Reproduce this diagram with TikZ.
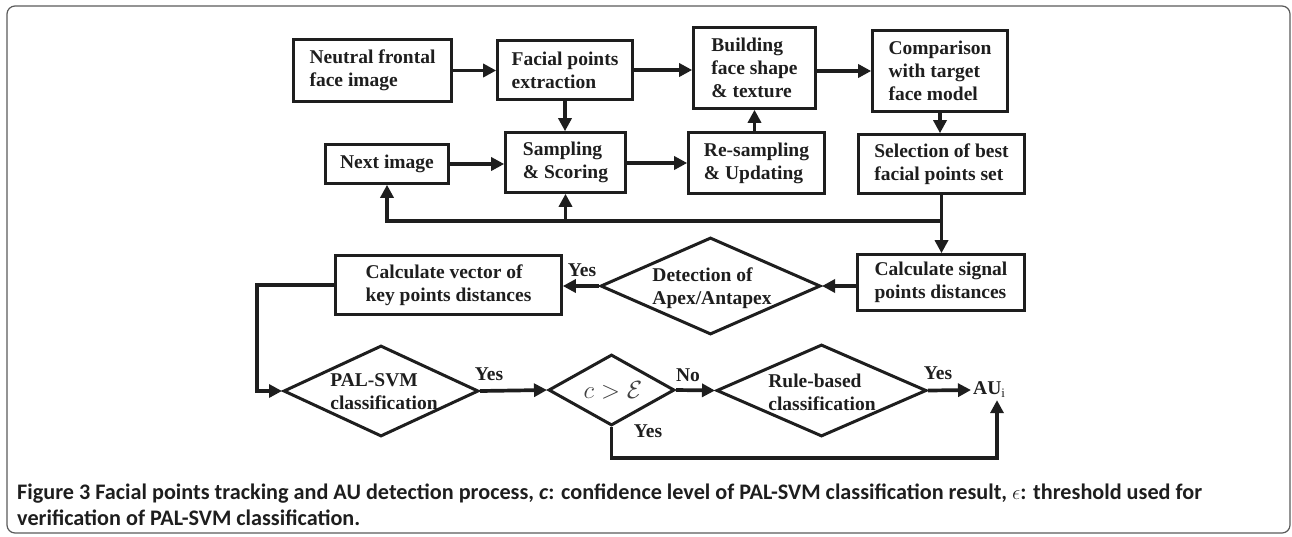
\documentclass[tikz,border=0pt]{standalone}
\usepackage{fontspec}
\setmainfont{Liberation Serif}
\newfontfamily\capfamily{Carlito}
\usetikzlibrary{shapes.geometric,arrows.meta}

\definecolor{ink}{HTML}{1E1E1E}
\definecolor{framegray}{HTML}{5A5A5A}

\newcommand{\boxfont}{\bfseries\fontsize{19.5}{23}\selectfont}
\newcommand{\capfont}{\capfamily\bfseries\fontsize{22.2}{24}\selectfont}

\tikzset{
  box/.style={draw=ink, line width=2.6pt, align=left, font=\boxfont, text=ink, inner sep=0pt},
  dia/.style={draw=ink, diamond, line width=3pt, inner sep=0pt},
  dtext/.style={align=left, font=\boxfont, text=ink, inner sep=0pt},
  arr/.style={draw=ink, line width=3.7pt, -{Triangle[length=13pt,width=13pt]}},
  lbl/.style={font=\boxfont, text=ink, inner sep=0pt},
  captext/.style={font=\capfont, text=ink, anchor=base west, inner sep=0pt}
}

\begin{document}
\begin{tikzpicture}[x=1pt, y=-1pt]
\useasboundingbox (0,0) rectangle (1292,536);

% outer frame of the figure
\draw[framegray, line width=1.2pt, rounded corners=8pt] (7,6) rectangle (1290,533);

% first two rows of process boxes
\node[box, minimum width=158pt, minimum height=62pt] (nfi) at (372.5,70.5) {Neutral frontal\\face image};
\node[box, minimum width=135pt, minimum height=59pt] (fpe) at (565,70) {Facial points\\extraction};
\node[box, minimum width=122pt, minimum height=81pt] (bfs) at (754.5,68) {Building\\face shape\\\& texture};
\node[box, minimum width=135pt, minimum height=81pt] (cmp) at (940,71) {Comparison\\with target\\face model};
\node[box, minimum width=166pt, minimum height=59pt] (sel) at (941.5,164) {Selection of best\\facial points set};
\node[box, minimum width=123pt, minimum height=39pt] (nxt) at (387,164) {Next image};
\node[box, minimum width=120pt, minimum height=60pt] (sps) at (565.5,162.5) {Sampling\\\& Scoring};
\node[box, minimum width=136pt, minimum height=61pt] (rsu) at (756.5,163) {Re-sampling\\\& Updating};

% third row
\node[box, minimum width=167pt, minimum height=56pt] (sig) at (941,282.5) {Calculate signal\\points distances};
\node[box, minimum width=226pt, minimum height=59pt] (vec) at (448.5,285) {Calculate vector of\\key points distances};
\node[dia, minimum width=220pt, minimum height=97pt] (det) at (710.5,286) {};
\node[dtext] (dett) at (712,288) {Detection of\\Apex/Antapex};

% decision row
\node[dia, minimum width=195pt, minimum height=91pt] (pal) at (381,391) {};
\node[dtext] (palt) at (384,392) {PAL-SVM\\classification};
\node[dia, minimum width=126pt, minimum height=71pt] (cge) at (611.5,390) {};
\node[inner sep=0pt, text=ink!85] (cget) at (613,390) {\fontsize{26}{26}\selectfont $c > \mathcal{E}$};
\node[dia, minimum width=210pt, minimum height=92pt] (rule) at (821.5,390.5) {};
\node[dtext] (rulet) at (822,392) {Rule-based\\classification};
\node[lbl, anchor=west, inner sep=2pt] (au) at (971,390) {AU\raisebox{-3pt}{\mdseries\fontsize{13}{13}\selectfont i}};

% helper points for routed connectors
\coordinate (fb) at (941,221);
\coordinate (lx) at (257,0);
\coordinate (aux) at (997,458);

% connectors of the tracking loop
\draw[arr] (nfi.east) -- (nfi.east -| fpe.west);
\draw[arr] (fpe.east) -- (fpe.east -| bfs.west);
\draw[arr] (cmp.west -| bfs.east) -- (cmp.west);
\draw[arr] (cmp.south) -- (cmp.south |- sel.north);
\draw[arr] (fpe.south) -- (fpe.south |- sps.north);
\draw[arr] (bfs.south |- rsu.north) -- (bfs.south);
\draw[arr] (nxt.east) -- (nxt.east -| sps.west);
\draw[arr] (rsu.west -| sps.east) -- (rsu.west);
\draw[arr] (sel.south) -- (sel.south |- sig.north);
\draw[arr] (sel.south |- fb) -| (nxt.south);
\draw[arr] (sps.south |- fb) -- (sps.south);

% connectors of the detection stage
\draw[arr] (det.east -| sig.west) -- (det.east);
\draw[arr] (det.west) -- (det.west -| vec.east);
\draw[arr] (vec.west) -- (vec.west -| lx) |- (pal.west);
\draw[arr] (pal.east) -- (cge.west);
\draw[arr] (cge.east) -- (rule.west);
\draw[arr] (rule.east) -- (au.west);
\draw[arr] (cge.south) |- (aux) -- (aux |- au.south);

% branch labels
\node[lbl] (y1) at (582,270) {Yes};
\node[lbl] (y2) at (489,374) {Yes};
\node[lbl] (n1) at (688,375) {No};
\node[lbl] (y3) at (938,373) {Yes};
\node[lbl] (y4) at (648,431) {Yes};

% caption
\node[captext] (cap1) at (17,499) {Figure 3 Facial points tracking and AU detection process, \textit{c}: confidence level of PAL-SVM classification result, $\epsilon$: threshold used for};
\node[captext] (cap2) at (17,525) {verification of PAL-SVM classification.};
\end{tikzpicture}
\end{document}
